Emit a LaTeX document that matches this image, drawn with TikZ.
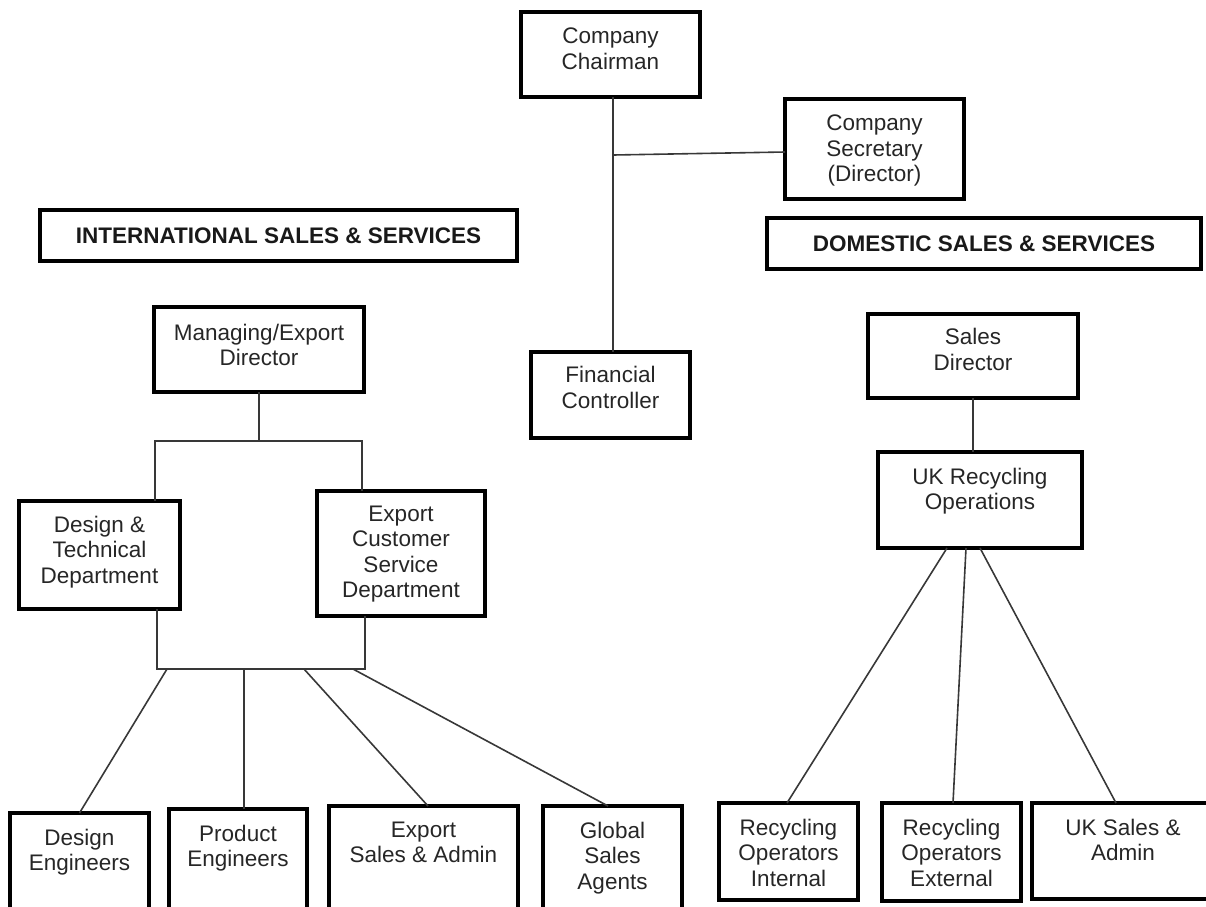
\documentclass[tikz,border=0pt]{standalone}
\usepackage{fontspec}
\setmainfont{Liberation Sans}
\begin{document}
\begin{tikzpicture}[x=1pt,y=-1pt,
  box/.style={draw=black, line width=3.2pt, rectangle, inner sep=0pt, outer sep=0pt},
  hdr/.style={draw=black, line width=4.2pt, rectangle, inner sep=0pt, outer sep=0pt,
    font=\fontsize{22.5}{25.5}\selectfont\bfseries, text=black!90},
  txt/.style={inner sep=0pt, outer sep=0pt, align=center, anchor=north,
    font=\fontsize{22.5}{25.5}\selectfont, text=black!85},
  conn/.style={draw=black!78, line width=1.6pt}]
\useasboundingbox (0,0) rectangle (1206,906);
% boxes
\node[box, minimum width=179pt, minimum height=85pt]  (chair) at (610.5,54.5) {};
\node[box, minimum width=179pt, minimum height=100pt] (sec)   at (874.5,149) {};
\node[hdr, minimum width=477pt, minimum height=51pt]  (intl)  at (278.5,235.5) {INTERNATIONAL SALES \& SERVICES};
\node[hdr, minimum width=434pt, minimum height=51pt]  (dom)   at (984,243.5) {DOMESTIC SALES \& SERVICES};
\node[box, minimum width=210pt, minimum height=85pt]  (man)   at (259,349.5) {};
\node[box, minimum width=159pt, minimum height=86pt]  (fin)   at (610.5,395) {};
\node[box, minimum width=210pt, minimum height=84pt]  (sd)    at (973,356) {};
\node[box, minimum width=204pt, minimum height=96pt]  (ukr)   at (980,500) {};
\node[box, minimum width=161pt, minimum height=108pt] (dt)    at (99.5,555) {};
\node[box, minimum width=168pt, minimum height=125pt] (ecs)   at (401,553.5) {};
\node[box, minimum width=139pt, minimum height=102pt] (de)    at (79.5,864) {};
\node[box, minimum width=138pt, minimum height=106pt] (pe)    at (238,862) {};
\node[box, minimum width=189pt, minimum height=109pt] (es)    at (423.5,860.5) {};
\node[box, minimum width=139pt, minimum height=109pt] (gs)    at (612.5,860.5) {};
\node[box, minimum width=139pt, minimum height=97pt]  (ri)    at (788.5,851.5) {};
\node[box, minimum width=139pt, minimum height=98pt]  (re)    at (951.5,852) {};
\node[box, minimum width=182pt, minimum height=96pt]  (uks)   at (1123,851) {};
% texts
\node[txt] (chair-t) at ([yshift=-16pt]chair.north) {Company\\Chairman};
\node[txt] (sec-t)   at ([yshift=-16pt]sec.north) {Company\\Secretary\\(Director)};
\node[txt] (man-t)   at ([yshift=-17pt]man.north) {Managing/Export\\Director};
\node[txt] (fin-t)   at ([yshift=-14.5pt]fin.north) {Financial\\Controller};
\node[txt] (sd-t)    at ([yshift=-14.5pt]sd.north) {Sales\\Director};
\node[txt] (ukr-t)   at ([yshift=-16pt]ukr.north) {UK Recycling\\Operations};
\node[txt] (dt-t)    at ([yshift=-15pt]dt.north) {Design \&\\Technical\\Department};
\node[txt] (ecs-t)   at ([yshift=-15pt]ecs.north) {Export\\Customer\\Service\\Department};
\node[txt] (de-t)    at ([yshift=-16pt]de.north) {Design\\Engineers};
\node[txt] (pe-t)    at ([yshift=-16pt]pe.north) {Product\\Engineers};
\node[txt] (es-t)    at ([yshift=-16pt]es.north) {Export\\Sales \& Admin};
\node[txt] (gs-t)    at ([yshift=-16pt]gs.north) {Global\\Sales\\Agents};
\node[txt] (ri-t)    at ([yshift=-16pt]ri.north) {Recycling\\Operators\\Internal};
\node[txt] (re-t)    at ([yshift=-16pt]re.north) {Recycling\\Operators\\External};
\node[txt] (uks-t)   at ([yshift=-16pt]uks.north) {UK Sales \&\\Admin};
% junction coordinates
\coordinate (j1) at (613,155);
\coordinate (j2) at (259,441);
\coordinate (bl) at (155,441);
\coordinate (br) at (362,441);
\coordinate (cl) at (157,669);
\coordinate (cr) at (365,669);
\coordinate (b1) at (167,669);
\coordinate (b2) at (244,669);
\coordinate (b3) at (304,669);
\coordinate (b4) at (353,669);
% connectors
\draw[conn] ([xshift=2.5pt]chair.south) -- ([xshift=2.5pt]fin.north);
\draw[conn] (j1) -- ([yshift=-3pt]sec.west);
\draw[conn] (man.south) -- (j2);
\draw[conn] (dt.north -| bl) -- (bl) -- (br) -- (ecs.north -| br);
\draw[conn] (dt.south -| cl) -- (cl) -- (cr) -- (ecs.south -| cr);
\draw[conn] (b1) -- (de.north);
\draw[conn] (b2) -- (pe.north -| b2);
\draw[conn] (b3) -- ([xshift=4.5pt]es.north);
\draw[conn] (b4) -- ([xshift=-4.5pt]gs.north);
\draw[conn] (sd.south) -- (sd.south |- ukr.north);
\draw[conn] ([xshift=-33pt]ukr.south) -- ([xshift=-1.5pt]ri.north);
\draw[conn] ([xshift=-14pt]ukr.south) -- ([xshift=1.5pt]re.north);
\draw[conn] (ukr.south) -- ([xshift=-7pt]uks.north);
\end{tikzpicture}
\end{document}
